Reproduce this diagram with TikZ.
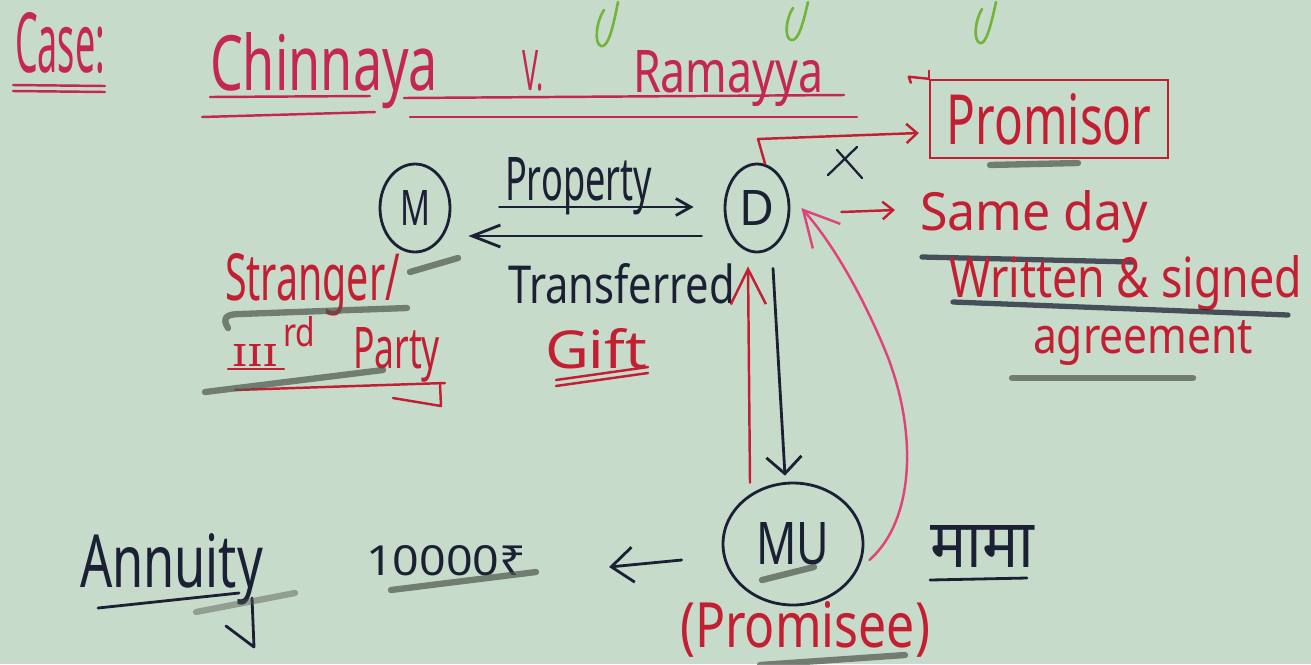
\documentclass[tikz,border=0pt]{standalone}
\usepackage{fontspec}
\setmainfont{Noto Sans}
\newfontfamily\devafont[Script=Devanagari]{Noto Sans}
\usetikzlibrary{shapes.geometric,arrows.meta,calc}
\newlength\pxu \setlength\pxu{0.02cm}
% handwritten-size text: width and height (above baseline) in drawing units
\newcommand\hw[3]{\resizebox{#1\pxu}{#2\pxu}{#3}}
\definecolor{board}{HTML}{C7DBCB}
\definecolor{ink}{HTML}{1C2035}
\definecolor{redink}{HTML}{C21F33}
\definecolor{titlered}{HTML}{C42752}
\definecolor{pinkink}{HTML}{E04379}
\definecolor{smudge}{HTML}{4E564C}
\definecolor{greenink}{HTML}{74B43A}
\begin{document}
\begin{tikzpicture}[x=0.02cm,y=-0.02cm,
  txt/.style={inner sep=0pt,outer sep=0pt},
  blk/.style={draw=ink,line width=1.6pt,line cap=round,line join=round},
  redl/.style={draw=redink,line width=1.4pt,line cap=round,line join=round},
  titl/.style={draw=titlered,line width=1.4pt,line cap=round},
  smear/.style={draw=smudge,line width=3.6pt,line cap=round,opacity=.7},
  circ/.style={ellipse,draw=ink,line width=1.6pt,inner sep=0pt,text=ink},
  grn/.style={draw=greenink,line width=1.5pt,line cap=round}]

% board
\fill[board] (0,0) rectangle (1311,664);
\useasboundingbox (0,0) rectangle (1311,664);

% tails of the green heading above
\draw[grn] (618,2) .. controls (613,28) and (608,48) .. (601,46) .. controls (594,44) and (596,22) .. (604,10);
\draw[grn] (808,2) .. controls (803,24) and (798,42) .. (791,40) .. controls (784,38) and (786,18) .. (793,8);
\draw[grn] (996,2) .. controls (991,25) and (986,45) .. (980,43) .. controls (973,41) and (975,20) .. (982,9);

% heading
\node[txt,anchor=base west,text=titlered] (case) at (15,72) {\hw{90}{60}{Case:}};
\draw[titl] (13,85) -- (105,86);
\draw[titl] (13,91) -- (105,92);
\node[txt,anchor=base west,text=titlered] (chin) at (210,90) {\hw{228}{58}{Chinnaya}};
\node[txt,anchor=base west,text=titlered] (vs) at (522,90) {\hw{22}{40}{V.}};
\node[txt,anchor=base west,text=titlered] (rama) at (633,92) {\hw{190}{42}{Ramayya}};
\draw[titl] (210,97) -- (370,96);
\draw[titl] (202,117) -- (375,112);
\draw[titl] (404,98) -- (844,95);
\draw[titl] (410,117) -- (857,117);

% promisor box
\node[draw=redink,line width=1.4pt,minimum width=4.76cm,minimum height=1.56cm,inner sep=0pt,text=redink] (pbox) at (1049,119) {\hw{205}{51}{Promisor}};
\draw[redl] (pbox.north west) -- ++(-20,-2) -- ++(2,6);
\draw[redl] (pbox.north west) -- ++(0,-8);
\draw[smear] (990,165) -- (1078,163);

% parties
\node[circ,minimum width=1.4cm,minimum height=1.76cm] (M) at (415,208) {\hw{30}{35}{M}};
\node[circ,minimum width=1.28cm,minimum height=1.76cm] (D) at (757,208) {\hw{35}{35}{D}};
\node[circ,minimum width=2.8cm,minimum height=2.44cm] (MU) at (793,544) {\hw{73}{42}{MU}};

% property goes M -> D, transferred back
\node[txt,anchor=base west,text=ink] (prop) at (505,200) {\hw{147}{43}{Property}};
\draw[blk,-{Straight Barb[length=8.5pt,width=9.6pt]}] ($(M.east)+(48,-1)$) -- ($(D.west)+(-30,-1)$);
\draw[blk,-{Straight Barb[length=16pt,width=12.5pt]}] ($(D.west)+(-22,28)$) -- ($(M.east)+(17,28)$);
\node[txt,anchor=base west,text=ink] (trans) at (508,303) {\hw{227}{40}{Transferred}};
\node[txt,anchor=base west,text=redink] (gift) at (545,368) {\hw{102}{40}{Gift}};
\draw[redl] (556,380) -- (648,367);
\draw[redl] (556,386) -- (648,373);

% stranger label
\node[txt,anchor=base west,text=redink] (stranger) at (225,300) {\hw{175}{47}{Stranger/}};
\node[txt,anchor=base west,text=redink] (third) at (232,366) {\hw{46}{22}{III}};
\node[txt,anchor=base west,text=redink] (rd) at (283,346) {\hw{32}{30}{rd}};
\node[txt,anchor=base west,text=redink] (party) at (353,368) {\hw{87}{41}{Party}};
\draw[redl] (228,369) -- (284,369);
\draw[redl] (235,390) -- (445,383);
\draw[redl] (440,384) -- (441,406) -- (393,398);
\draw[smear] (410,272) -- (458,258);
\draw[smear] (228,328) .. controls (222,318) and (226,314) .. (240,314) -- (407,308);
\draw[smear] (205,392) -- (383,370);

% D to promisor, struck out
\draw[redl,-{Straight Barb[length=6pt,width=11pt]}] ($(D.north)+(8,1)$) -- (758,139) -- ($(pbox.west)+(-10,14)$);
\draw[ink,line width=1.3pt,line cap=round] (828,175) -- (857,147) (837,150) -- (862,178);

% same day agreement
\node[txt,anchor=base west,text=redink] (same) at (920,230) {\hw{228}{40}{Same day}};
\draw[redl,-{Straight Barb[length=6pt,width=10pt]}] ($(D.east)+(51,4)$) -- ($(same.base west)+(-25,-20)$);
\draw[draw=ink,line width=3pt,line cap=round,opacity=.75] (922,257) -- (1133,262);
\node[txt,anchor=base west,text=redink] (written) at (949,297) {\hw{353}{42}{Written \& signed}};
\draw[draw=ink,line width=3pt,line cap=round,opacity=.75] (953,302) -- (1288,315);
\node[txt,anchor=base west,text=redink] (agree) at (1033,353) {\hw{220}{33}{agreement}};
\draw[smear] (1012,378) -- (1193,378);

% D <-> MU
\draw[redl,-{Straight Barb[length=20pt,width=20pt]}] ($(MU.north)+(-43,1)$) -- ($(D.south)+(-9,13)$);
\draw[blk,-{Straight Barb[length=9.6pt,width=20pt]}] ($(D.south)+(16,15)$) -- ($(MU.north)+(-8,-6)$);
\draw[draw=pinkink,line width=1.4pt,line cap=round,-{Straight Barb[length=20pt,width=21pt]}]
  ($(MU.east)+(5,16)$) .. controls (915,520) and (918,430) .. (885,350)
  .. controls (860,290) and (830,240) .. ($(D.east)+(11,0)$);
\draw[smear] (762,580) -- (814,567);

% MU labels
\node[txt,anchor=base west,text=ink] (mama) at (930,567) {\hw{104}{42}{\devafont मामा}};
\draw[blk] (930,580) -- (1027,578);
\node[txt,anchor=base west,text=redink] (promisee) at (680,647) {\hw{250}{46}{(Promisee)}};
\draw[smear] (760,665) -- (905,655);

% annuity
\node[txt,anchor=base west,text=ink] (annuity) at (80,587) {\hw{183}{54}{Annuity}};
\draw[blk] (98,608) -- (239,593);
\draw[blk] (252,598) -- (254,647) -- (226,626);
\draw[smear,opacity=.45] (196,612) -- (295,593);
\node[txt,anchor=base west,text=ink] (amount) at (366,575) {\hw{160}{30}{10000₹}};
\draw[smear] (391,590) -- (536,572);
\draw[blk,-{Straight Barb[length=12.5pt,width=20pt]}] ($(MU.west)+(-40,16)$) -- ($(amount.base east)+(83,-8)$);
\end{tikzpicture}
\end{document}
